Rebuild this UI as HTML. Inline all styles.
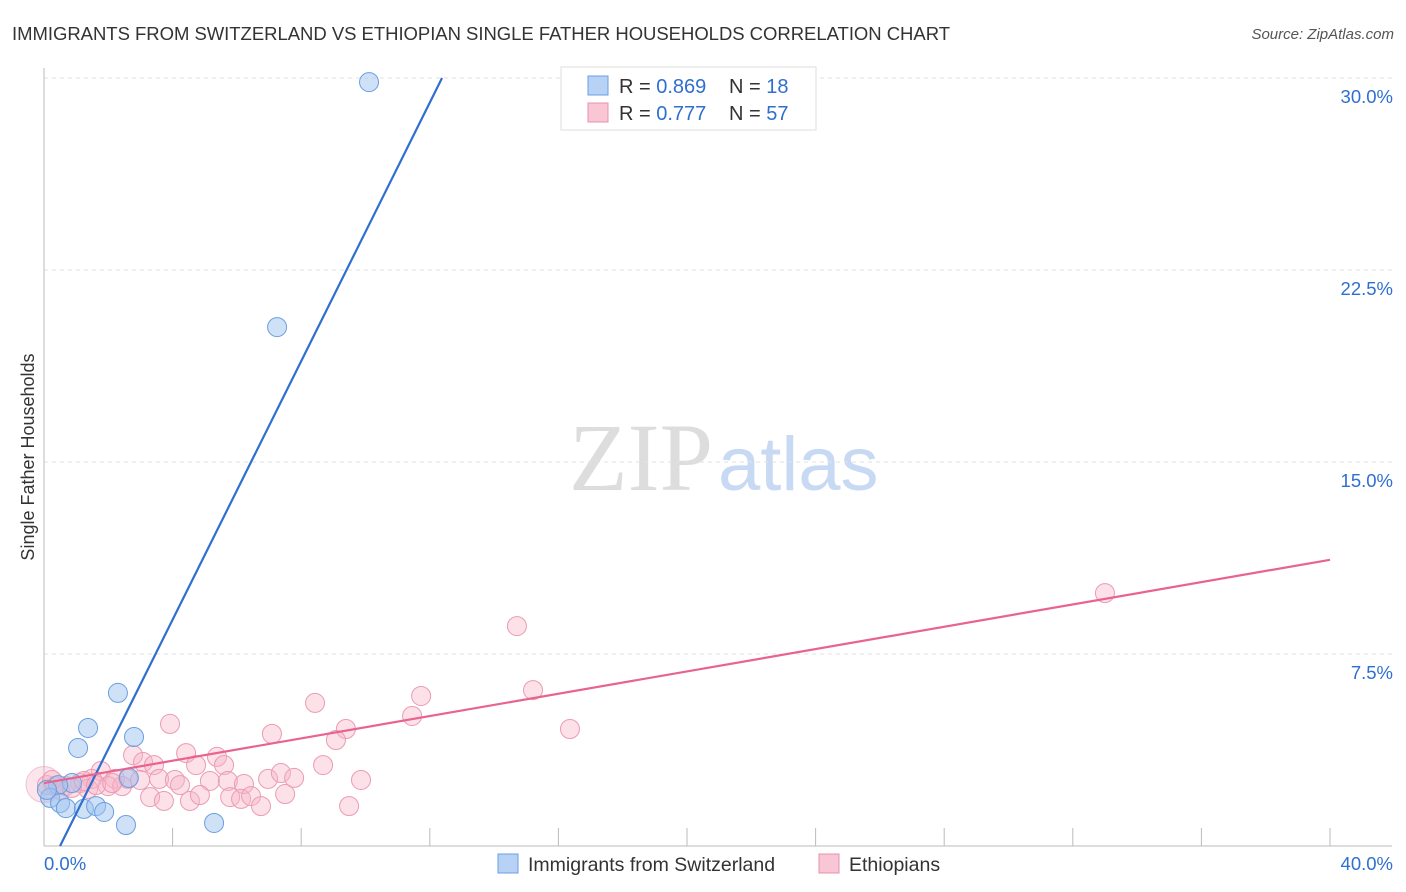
<!DOCTYPE html>
<html><head><meta charset="utf-8"><style>
body{margin:0;background:#fff;font-family:"Liberation Sans",sans-serif}
</style></head><body>
<svg id="chart" width="1406" height="892" style="display:block">
<text x="12" y="40" font-size="18.5" fill="#333" textLength="938">IMMIGRANTS FROM SWITZERLAND VS ETHIOPIAN SINGLE FATHER HOUSEHOLDS CORRELATION CHART</text>
<text x="1394" y="39" font-size="15" fill="#555" font-style="italic" text-anchor="end">Source: ZipAtlas.com</text>
<text x="713" y="490" font-size="96" fill="#ddd" text-anchor="end" font-family="Liberation Serif,serif">ZIP</text>
<text x="718" y="490" font-size="76" fill="#c8daf3">atlas</text>
<text transform="translate(34,457) rotate(-90)" font-size="18" fill="#333" text-anchor="middle">Single Father Households</text>
<g id="grid"></g><g id="pts"></g><g id="lines"></g>
<g>
<rect x="561" y="67" width="255" height="63" fill="#fff" stroke="#ddd"/>
<rect x="588" y="76" width="20" height="19" fill="#b7d2f5" stroke="#6a9fe0"/>
<rect x="588" y="103" width="20" height="19" fill="#f9c6d5" stroke="#e890ab"/>
<text x="619" y="93" font-size="20" fill="#333">R = <tspan fill="#2f6fd0">0.869</tspan></text>
<text x="729" y="93" font-size="20" fill="#333">N = <tspan fill="#2f6fd0">18</tspan></text>
<text x="619" y="120" font-size="20" fill="#333">R = <tspan fill="#2f6fd0">0.777</tspan></text>
<text x="729" y="120" font-size="20" fill="#333">N = <tspan fill="#2f6fd0">57</tspan></text>
</g>
<g>
<rect x="498" y="854" width="20" height="19" fill="#b7d2f5" stroke="#6a9fe0"/>
<text x="528" y="871" font-size="19.5" fill="#333">Immigrants from Switzerland</text>
<rect x="819" y="854" width="20" height="19" fill="#f9c6d5" stroke="#e890ab"/>
<text x="849" y="871" font-size="19.5" fill="#333">Ethiopians</text>
</g>
</svg>
<script>
const yTicks=[7.5,15,22.5,30];
const yTickLabels=["7.5%","15.0%","22.5%","30.0%"];
const xTickLabels=["0.0%","40.0%"];
const blueX=[10.11,7.25,2.30,1.37,1.06,2.80,2.64,0.87,0.44,0.19,0.50,0.68,1.24,1.62,1.87,2.55,5.29,0.09];
const blueY=[29.84,20.27,5.98,4.61,3.83,4.26,2.66,2.46,2.38,1.88,1.68,1.48,1.45,1.56,1.33,0.82,0.90,2.19];
const pinkX=[3.92,8.43,11.73,14.71,15.21,33.00,11.45,16.36,9.39,9.08,7.09,2.77,4.42,5.38,3.08,3.42,4.73,5.60,8.68,1.77,2.21,2.61,2.99,3.58,4.07,4.23,5.16,5.72,6.22,6.97,7.37,7.78,9.86,1.49,1.12,0.68,0.34,0.09,1.37,1.99,2.43,3.30,3.73,4.54,4.85,5.79,6.13,6.44,6.75,7.50,9.49,0.50,0.87,1.24,0.25,1.62,2.12];
const pinkY=[4.77,5.59,5.86,8.59,6.09,9.88,5.08,4.57,4.57,4.14,4.38,3.55,3.63,3.48,3.28,3.16,3.16,3.16,3.16,2.93,2.62,2.62,2.58,2.62,2.58,2.38,2.54,2.54,2.42,2.62,2.85,2.66,2.58,2.62,2.46,2.34,2.34,2.38,2.23,2.34,2.34,1.91,1.76,1.76,1.99,1.91,1.84,1.95,1.56,2.03,1.56,2.19,2.27,2.54,2.58,2.38,2.46];
const blueFit=[-1.26,2.525];
const pinkFit=[2.46,0.218];
const NS="http://www.w3.org/2000/svg";
const xs=v=>44+v*32.15, ys=v=>846-v*25.6;
function mk(t,a,p){const e=document.createElementNS(NS,t);for(const k in a)e.setAttribute(k,a[k]);p.appendChild(e);return e;}
const g=document.getElementById('grid');
yTicks.forEach((t,i)=>{
 const l=mk('line',{x1:44,x2:1392,y1:ys(t),y2:ys(t),stroke:'#e2e2e2','stroke-dasharray':'4,4'},g);
 
 
 const tx=mk('text',{x:1393,y:ys(t)+25,'font-size':18.5,fill:'#2f6fd0','text-anchor':'end'},g);
 tx.textContent=yTickLabels[i];
 
 
});
mk('line',{x1:44,x2:44,y1:68,y2:846,stroke:'#bbb'},g);
mk('line',{x1:44,x2:1392,y1:846,y2:846,stroke:'#bbb'},g);
for(let i=1;i<=10;i++){const t=mk('line',{x1:xs(i*4),x2:xs(i*4),y1:828,y2:846,stroke:'#bbb'},g);
 
 }
[[0,44,'start'],[40,1393,'end']].forEach((a,i)=>{const t=mk('text',{x:a[1],y:870,'font-size':18.5,fill:'#2f6fd0','text-anchor':a[2]},g);t.textContent=xTickLabels[i];
 
 });
const P=document.getElementById('pts');
const big=mk('circle',{cx:xs(0),cy:ys(2.4),r:18,fill:'rgba(248,180,200,0.35)',stroke:'rgba(232,144,171,0.5)'},P);


pinkX.forEach((x,i)=>{const c=mk('circle',{cx:xs(x),cy:ys(pinkY[i]),r:9.5,fill:'rgba(248,180,200,0.4)',stroke:'#eb9bb4'},P);
 
 });
blueX.forEach((x,i)=>{const c=mk('circle',{cx:xs(x),cy:ys(blueY[i]),r:9.5,fill:'rgba(160,196,240,0.5)',stroke:'#6a9fe0'},P);
 
 });
const L=document.getElementById('lines');
const bx0=(0-blueFit[0])/blueFit[1], bx1=(30-blueFit[0])/blueFit[1];
const bl=mk('line',{x1:xs(bx0),y1:ys(0),x2:xs(bx1),y2:ys(30),stroke:'#2f6fd0','stroke-width':2.2},L);


const pl=mk('line',{x1:xs(0),y1:ys(pinkFit[0]),x2:xs(40),y2:ys(pinkFit[0]+40*pinkFit[1]),stroke:'#e8638f','stroke-width':2.2},L);


</script>
</body></html>
